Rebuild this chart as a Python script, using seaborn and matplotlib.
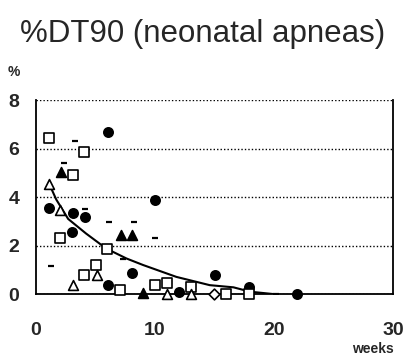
import pandas as pd
import matplotlib
matplotlib.use('Agg')
import matplotlib.pyplot as plt
import seaborn as sns

# values (weeks, %DT90)
circle_x = [1.07, 3.08, 3.0, 4.14, 6.02, 6.05, 8.04, 10.0, 12.0, 15.04, 17.9, 21.96]
circle_y = [3.57, 3.33, 2.57, 3.16, 6.69, 0.37, 0.88, 3.88, 0.1, 0.78, 0.28, 0.0]

square_x = [1.07, 4.06, 3.08, 2.0, 6.0, 5.04, 4.06, 7.03, 10.0, 11.0, 13.0, 16.0, 17.9]
square_y = [6.42, 5.87, 4.9, 2.3, 1.88, 1.2, 0.78, 0.17, 0.37, 0.45, 0.28, 0.0, 0.0]

tri_fill_x = [2.1, 7.14, 8.1, 9.0]
tri_fill_y = [5.04, 2.45, 2.45, 0.05]

tri_open_x = [1.12, 2.0, 3.1, 5.1, 11.0, 13.0]
tri_open_y = [4.56, 3.46, 0.37, 0.78, 0.0, 0.0]

diamond_x = [15.0]
diamond_y = [0.0]

# little horizontal bars (error ticks)
dash_x = [3.3, 2.33, 4.14, 1.26, 6.16, 8.26, 10.0, 7.3, 20.2]
dash_y = [6.31, 5.41, 3.49, 1.15, 2.98, 2.98, 2.3, 1.45, 0.0]

# fitted decay curve
curve_x = [1.1, 1.7, 2.7, 4.2, 5.9, 7.6, 9.0, 11.8, 14.6, 16.6, 18.0, 20.0]
curve_y = [4.55, 3.9, 3.1, 2.5, 1.88, 1.47, 1.2, 0.71, 0.37, 0.28, 0.1, 0.0]

sns.set_style('white')
plt.rcParams['font.family'] = ['Liberation Sans', 'DejaVu Sans']

fig = plt.figure(figsize=(4.05, 3.6), dpi=100)
ax = fig.add_axes([0.089, 0.183, 0.881, 0.539])

sns.lineplot(x=curve_x, y=curve_y, color='black', linewidth=1.5, ax=ax)

groups = [
    (circle_x, circle_y, 'o', 'black', 45),
    (square_x, square_y, 's', 'white', 45),
    (tri_fill_x, tri_fill_y, '^', 'black', 50),
    (tri_open_x, tri_open_y, '^', 'white', 50),
    (diamond_x, diamond_y, 'D', 'white', 30),
]
for gx, gy, m, fc, s in groups:
    sns.scatterplot(x=gx, y=gy, marker=m, color=fc, edgecolor='black',
                    linewidth=1.2, s=s, ax=ax, zorder=3, clip_on=False)

sns.scatterplot(x=dash_x, y=dash_y, marker='_', color='black', linewidth=1.6,
                s=25, ax=ax, zorder=3)

ax.set_xlim(0, 30)
ax.set_ylim(0, 8)
ax.set_xticks([0, 10, 20, 30])
ax.set_yticks([0, 2, 4, 6, 8])
ax.yaxis.grid(True, linestyle=(0, (1, 1.5)), color='black', linewidth=1)
ax.xaxis.grid(False)
ax.tick_params(axis='both', length=0, labelsize=14)
for lab in ax.get_xticklabels() + ax.get_yticklabels():
    lab.set_fontweight('bold')
ax.tick_params(axis='x', pad=20)
ax.tick_params(axis='y', pad=12)
ax.spines['top'].set_visible(False)
for side in ['left', 'bottom', 'right']:
    ax.spines[side].set_color('black')
    ax.spines[side].set_linewidth(1.3)

fig.text(0.5, 0.905, '%DT90 (neonatal apneas)', ha='center', va='center', fontsize=22.5)
fig.text(0.035, 0.80, '%', ha='center', va='center', fontsize=10, fontweight='bold')
fig.text(0.92, 0.03, 'weeks', ha='center', va='center', fontsize=10, fontweight='bold')

fig.savefig('out.png', dpi=100)
